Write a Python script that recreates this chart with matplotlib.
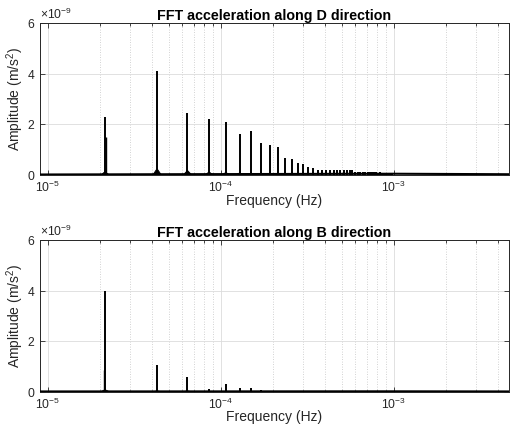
import matplotlib
matplotlib.use('Agg')
import matplotlib.pyplot as plt
import matplotlib.ticker as mticker
import numpy as np

plt.rcParams['font.family'] = ['Liberation Sans', 'DejaVu Sans']
plt.rcParams['mathtext.fontset'] = 'custom'
plt.rcParams['mathtext.rm'] = 'Liberation Sans'
plt.rcParams['mathtext.it'] = 'Liberation Sans:italic'
plt.rcParams['mathtext.bf'] = 'Liberation Sans:bold'

# peak frequencies (units of 1e-5 Hz)
peak_freq = [2.14, 4.28, 6.42, 8.56, 10.70, 12.84, 14.98, 17.12, 19.26, 21.40,
             23.54, 25.68, 27.82, 29.96, 32.10, 34.24, 36.38, 38.52, 40.66, 42.80,
             44.94, 47.08, 49.22, 51.36, 53.50, 55.64, 57.78, 59.92, 62.06, 64.20,
             66.34, 68.48, 70.62, 72.76, 74.90, 77.04, 79.18, 81.32, 83.46, 85.60,
             87.74, 89.88, 92.02, 94.16, 96.30, 98.44]

# peak amplitudes (units of 1e-9 m/s^2)
amp_d = [2.28, 4.12, 2.44, 2.20, 2.10, 1.62, 1.74, 1.28, 1.19, 1.09,
         0.66, 0.63, 0.46, 0.43, 0.33, 0.26, 0.21, 0.20, 0.20, 0.20,
         0.21, 0.20, 0.21, 0.20, 0.20, 0.21, 0.20, 0.13, 0.12, 0.13,
         0.12, 0.12, 0.11, 0.12, 0.11, 0.10, 0.10, 0.09, 0.10, 0.09,
         0.08, 0.09, 0.08, 0.07, 0.07, 0.08]
amp_b = [4.00, 1.05, 0.57, 0.09, 0.29, 0.15, 0.15, 0.06, 0.04, 0.04,
         0.03, 0.03, 0.03, 0.03, 0.03, 0.03, 0.03, 0.03, 0.03, 0.03,
         0.02, 0.02, 0.02, 0.02, 0.02, 0.02, 0.02, 0.02, 0.02, 0.02,
         0.02, 0.02, 0.02, 0.02, 0.02, 0.02, 0.02, 0.02, 0.02, 0.02,
         0.02, 0.02, 0.02, 0.02, 0.02, 0.02]

# low skirt at the foot of the first peaks
base_d = [0.13, 0.25, 0.18, 0.12, 0.10, 0.08, 0.08, 0.06, 0.06, 0.05]
base_b = [0.08, 0.03, 0.03]

# side spike next to the fundamental
shoulder_freq_d = [2.155]
shoulder_amp_d = [1.50]
shoulder_freq_b = [2.125]
shoulder_amp_b = [0.86]

# noise floor (frequency in Hz, amplitude 1e-9)
floor_freq = [9e-6, 1e-3, 4.65e-3]
floor_d = [0.02, 0.05, 0.03]
floor_b = [0.01, 0.015, 0.01]

xlim = (9e-6, 4.65e-3)
txt = '#262626'

fig = plt.figure(figsize=(5.11, 4.41), dpi=100)
ax1 = fig.add_axes([40/511, 1-175/441, 469/511, 152/441])
ax2 = fig.add_axes([40/511, 1-391.7/441, 469/511, 151.7/441])


def draw(ax, amps, base, sh_f, sh_a, flr, title):
    f = np.array(peak_freq) * 1e-5
    a = np.array(amps) * 1e-9
    ax.plot(floor_freq, np.array(flr) * 1e-9, color='k', lw=1.5, zorder=3)
    for fi, bi in zip(f, base):
        w = 10 ** 0.025
        ax.fill([fi / w, fi, fi * w], [0, bi * 1e-9, 0], color='k', lw=0.6, zorder=3)
    ax.vlines(f, 0, a, color='k', lw=1.4, zorder=4)
    ax.vlines(np.array(sh_f) * 1e-5, 0, np.array(sh_a) * 1e-9, color='k', lw=1.0, zorder=4)

    ax.set_xscale('log')
    ax.set_xlim(*xlim)
    ax.set_ylim(0, 6e-9)
    ax.set_yticks([0, 2e-9, 4e-9, 6e-9])
    ax.ticklabel_format(axis='y', style='sci', scilimits=(0, 0), useMathText=True)
    ax.yaxis.get_offset_text().set_fontsize(8.7)
    ax.yaxis.get_offset_text().set_color(txt)
    ax.xaxis.set_major_locator(mticker.LogLocator(base=10, numticks=10))
    ax.xaxis.set_minor_locator(mticker.LogLocator(base=10, subs=np.arange(2, 10), numticks=20))
    ax.xaxis.set_minor_formatter(mticker.NullFormatter())

    ax.grid(True, which='major', color='#dcdcdc', lw=0.6, ls='-')
    ax.grid(True, which='minor', axis='x', color='#c4c4c4', lw=0.6, ls=(0, (1, 2)))
    ax.set_axisbelow(True)

    ax.tick_params(which='both', direction='in', top=True, right=True,
                   colors=txt, labelsize=8.7, width=0.6)
    ax.tick_params(which='major', length=3.3)
    ax.tick_params(which='minor', length=1.8)
    for s in ax.spines.values():
        s.set_color(txt)
        s.set_linewidth(0.7)

    ax.set_xlabel('Frequency (Hz)', fontsize=10, color=txt, labelpad=-1)
    ax.set_ylabel('Amplitude (m/s$^2$)', fontsize=10, color=txt, labelpad=0.5)
    ax.set_title(title, fontsize=10.3, fontweight='bold', color='k', pad=2)


draw(ax1, amp_d, base_d, shoulder_freq_d, shoulder_amp_d, floor_d,
     'FFT acceleration along D direction')
draw(ax2, amp_b, base_b, shoulder_freq_b, shoulder_amp_b, floor_b,
     'FFT acceleration along B direction')

fig.savefig('out.png', dpi=100)
